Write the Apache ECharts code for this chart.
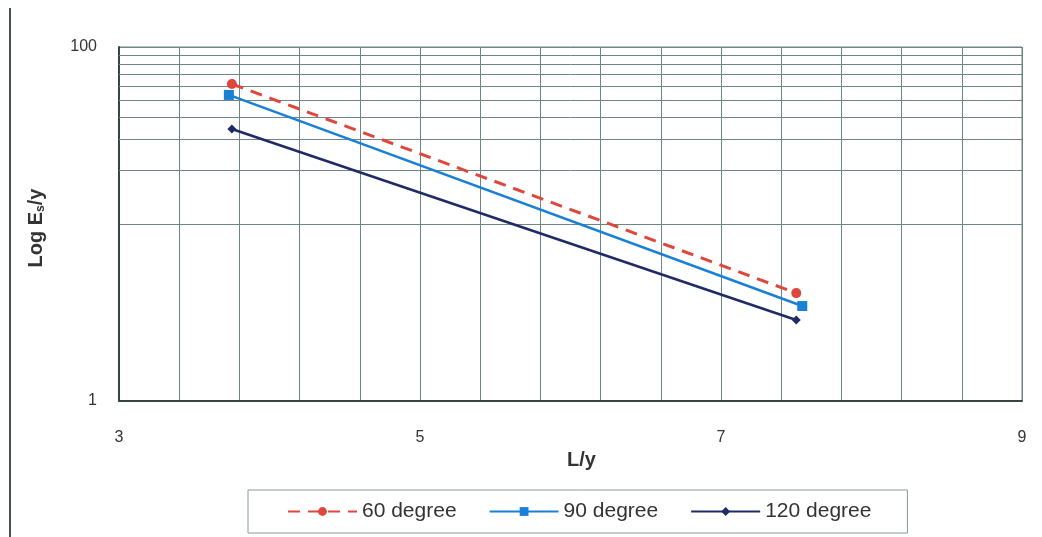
<!DOCTYPE html>
<html>
<head>
<meta charset="utf-8">
<script src="https://cdn.jsdelivr.net/npm/echarts@6/dist/echarts.min.js"></script>
<style>
html,body{margin:0;padding:0;background:#fff;}
#chart{width:1042px;height:537px;}
</style>
</head>
<body>
<div id="chart"></div>
<script>
const seriesNames = ['60 degree', '90 degree', '120 degree'];
const x60 = [3.75, 7.5];
const y60 = [61.8, 4.07];
const x90 = [3.73, 7.54];
const y90 = [53.6, 3.44];
const x120 = [3.75, 7.5];
const y120 = [34.4, 2.87];
const xTickLabels = [3, 5, 7, 9];
const yTickLabels = [1, 100];
const yMinorGrid = [20, 30, 40, 50, 60, 70, 80, 90];

const gridColor = '#6f8484';
const font = '"Liberation Sans", Arial, sans-serif';

function pairs(xs, ys) { return xs.map((x, i) => [x, ys[i]]); }

const chart = echarts.init(document.getElementById('chart'), null, {renderer: 'canvas'});
chart.setOption({
  animation: false,
  backgroundColor: '#fff',
  textStyle: {fontFamily: font},
  grid: {left: 119, right: 20, top: 47, bottom: 136, show: true, borderColor: gridColor, borderWidth: 1},
  graphic: [{
    type: 'line', shape: {x1: 10, y1: 8, x2: 10, y2: 537},
    style: {stroke: '#4a5252', lineWidth: 2}
  }],
  legend: {
    data: seriesNames,
    left: 248, top: 490,
    padding: [11, 36, 11, 39],
    itemGap: 32,
    itemWidth: 69, itemHeight: 11,
    borderColor: '#8a9a9a', borderWidth: 1,
    textStyle: {fontFamily: font, fontSize: 21, color: '#333'}
  },
  xAxis: [{
    type: 'value', min: 3, max: 9, interval: 1,
    name: 'L/y', nameLocation: 'middle', nameGap: 36,
    nameTextStyle: {fontFamily: font, fontSize: 20, fontWeight: 'bold', color: '#333', padding: [0, 0, 0, 22]},
    axisLine: {show: true, lineStyle: {color: '#3a4444', width: 2}},
    axisTick: {show: false},
    splitLine: {show: false},
    axisLabel: {
      margin: 29, fontSize: 16, color: '#333', fontFamily: font,
      formatter: v => xTickLabels.some(t => Math.abs(t - v) < 1e-6) ? String(v) : ''
    }
  }, {
    type: 'value', min: 0, max: 6, interval: 0.4, position: 'bottom',
    axisLine: {show: false}, axisTick: {show: false}, axisLabel: {show: false},
    splitLine: {show: true, lineStyle: {color: gridColor, width: 1}}
  }],
  yAxis: {
    type: 'log', logBase: 10, min: 1, max: 100,
    name: 'Log E{sub|s}/y', nameLocation: 'middle', nameGap: 72,
    nameTextStyle: {
      fontFamily: font, fontSize: 20, fontWeight: 'bold', color: '#333',
      padding: [0, 8, 0, 0],
      rich: {sub: {fontSize: 12, fontWeight: 'bold', verticalAlign: 'bottom', padding: [10, 0, 0, 0], fontFamily: font, color: '#333'}}
    },
    axisLine: {show: true, lineStyle: {color: '#3a4444', width: 2}},
    axisTick: {show: false},
    splitLine: {show: true, lineStyle: {color: gridColor, width: 1}},
    axisLabel: {
      margin: 22, fontSize: 16, color: '#333', fontFamily: font,
      formatter: v => yTickLabels.some(t => Math.abs(t - v) < 1e-6) ? String(Math.round(v)) : ''
    }
  },
  series: [{
    type: 'line', name: '_grid', data: [], xAxisIndex: 0, silent: true,
    markLine: {
      silent: true, symbol: ['none', 'none'], z: 1, animation: false,
      label: {show: false},
      lineStyle: {type: 'solid', color: gridColor, width: 1},
      data: yMinorGrid.map(v => ({yAxis: v}))
    }
  }, {
    type: 'line', name: seriesNames[0], xAxisIndex: 0,
    data: pairs(x60, y60),
    symbol: 'circle', symbolSize: 10,
    itemStyle: {color: '#e0473c'},
    lineStyle: {color: '#e0473c', width: 3, type: [12, 8]}
  }, {
    type: 'line', name: seriesNames[1], xAxisIndex: 0,
    data: pairs(x90, y90),
    symbol: 'rect', symbolSize: 10,
    itemStyle: {color: '#1a7fd6'},
    lineStyle: {color: '#1a7fd6', width: 2.5}
  }, {
    type: 'line', name: seriesNames[2], xAxisIndex: 0,
    data: pairs(x120, y120),
    symbol: 'diamond', symbolSize: 9,
    itemStyle: {color: '#1f2b66'},
    lineStyle: {color: '#1f2b66', width: 2.5}
  }]
});
</script>
</body>
</html>
